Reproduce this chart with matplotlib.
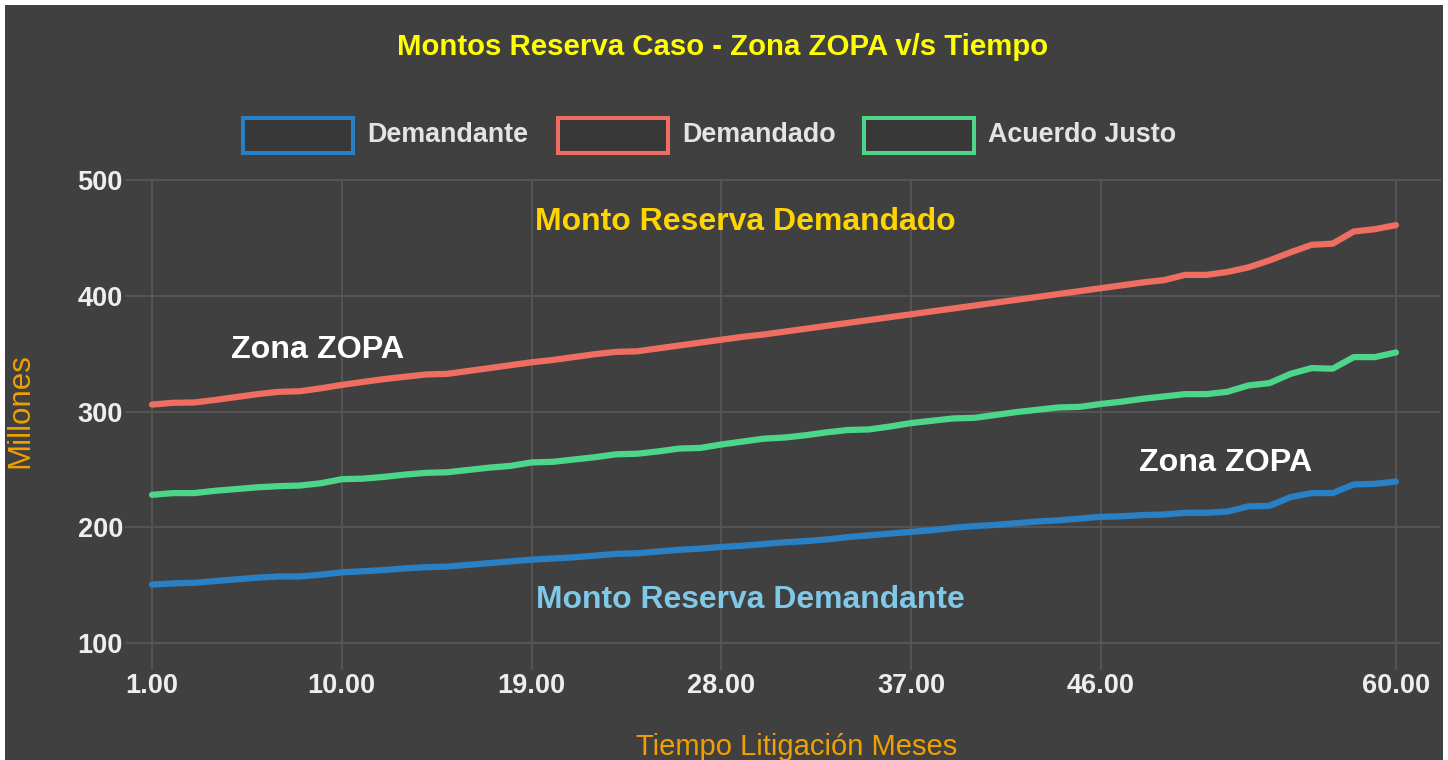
import matplotlib
matplotlib.use('Agg')
import matplotlib.pyplot as plt
from matplotlib.patches import Rectangle

# ---------------- data ----------------
months = list(range(1, 61))
demandante = [150.5, 151.5, 152, 153.5, 155, 156.5, 157.5, 157.5, 159, 161,
              162, 163, 164.5, 165.5, 166, 167.5, 169, 170.5, 172, 173,
              174, 175.5, 177, 177.5, 179, 180.5, 181.5, 183, 184, 185.5,
              187, 188, 189.5, 191.5, 193, 194.5, 196, 197.5, 199.5, 201,
              202, 203.5, 205, 206, 207.5, 209, 209.5, 210.5, 211, 212.5,
              212.5, 213.5, 218, 218.5, 226, 229.5, 229.5, 237, 237.5, 239.5]
demandado = [306, 307.5, 307.8, 310, 312.5, 315, 317, 317.5, 320, 323,
             325.5, 328, 330, 332, 332.5, 335, 337.5, 340, 342.5, 344.5,
             347, 349.5, 351.5, 352, 354.5, 357, 359.5, 362, 364.5, 366.5,
             369, 371.5, 374, 376.5, 379, 381.5, 384, 386.5, 389, 391.5,
             394, 396.5, 399, 401.5, 404, 406.5, 409, 411.5, 413.5, 418,
             418, 420.5, 424.5, 430.5, 437.5, 444, 445, 455.5, 457.5, 461]
acuerdo_justo = [228, 229.5, 229.5, 231.5, 233, 234.5, 235.5, 236, 238, 241.5,
                 242, 243.5, 245.5, 247, 247.5, 249.5, 251.5, 253, 256, 256.5,
                 258.5, 260.5, 263, 263.5, 265.5, 268, 268.5, 271.5, 274, 276.5,
                 277.5, 279.5, 282, 284, 284.5, 287, 290, 292, 294, 294.5,
                 297, 299.5, 301.5, 303.5, 304, 306.5, 308.5, 311, 313, 315,
                 315, 317, 322.5, 324.5, 332.5, 337.5, 337, 347, 347, 351]
x_ticks = [1, 10, 19, 28, 37, 46, 60]
y_ticks = [100, 200, 300, 400, 500]
series_names = ['Demandante', 'Demandado', 'Acuerdo Justo']

# ---------------- style ----------------
W, H = 1448, 760
BG = '#404040'
GRID = '#575757'
COLORS = ['#2a80c4', '#ee6e62', '#4dd68a']
FONT = 'Liberation Sans'

plt.rcParams['font.family'] = [FONT, 'DejaVu Sans']

fig = plt.figure(figsize=(W / 100, H / 100), dpi=100)
fig.patch.set_facecolor('white')
fig.patches.append(Rectangle((5 / W, 0), (1443 - 5) / W, 1 - 5 / H,
                             transform=fig.transFigure, facecolor=BG,
                             edgecolor='none', zorder=-10))

def fx(px):
    return px / W

def fy(py):
    return 1 - py / H

ax = fig.add_axes([fx(152), fy(643), (1440 - 152) / W, (643 - 180) / H])
ax.set_zorder(5)
ax.patch.set_visible(False)

for vals, c in zip([demandante, demandado, acuerdo_justo], COLORS):
    ax.plot(months, vals, color=c, lw=4.5, solid_joinstyle='round',
            solid_capstyle='round', zorder=3, clip_on=False)

ax.set_xlim(1, 62.09)
ax.set_ylim(100, 500)
ax.set_xticks(x_ticks)
ax.set_xticklabels([f'{v:.2f}' for v in x_ticks])
ax.set_yticks(y_ticks)
ax.set_yticklabels([str(v) for v in y_ticks])
ax.grid(True, color=GRID, lw=1.3, zorder=1)
ax.set_axisbelow(True)
ax.spines['right'].set_visible(False)
for s in ['left', 'top', 'bottom']:
    ax.spines[s].set_color(GRID)
    ax.spines[s].set_linewidth(1.3)
ax.tick_params(axis='both', length=19.4, width=1.3, color=GRID,
               labelcolor='#eeeeee', labelsize=19.5)
ax.tick_params(axis='y', pad=1.5)
ax.tick_params(axis='x', pad=2.5)
for lab in ax.get_xticklabels() + ax.get_yticklabels():
    lab.set_fontweight('bold')

renderer = fig.canvas.get_renderer()

def fit(t, target, dim='w'):
    for _ in range(3):
        bb = t.get_window_extent(renderer)
        cur = bb.width if dim == 'w' else bb.height
        t.set_fontsize(t.get_fontsize() * target / cur)
    return t

def label(x, y, s, **kw):
    return fig.text(fx(x), fy(y), s, zorder=10, **kw)

# title
fit(label(723, 47, 'Montos Reserva Caso - Zona ZOPA v/s Tiempo',
          color='#ffff00', fontweight='bold', fontsize=20,
          ha='center', va='center'), 650)

# legend
box_x = [241, 556, 862]
text_x = [367, 682, 988]
leg_texts = []
for bx, tx, name, c in zip(box_x, text_x, series_names, COLORS):
    fig.patches.append(Rectangle((fx(bx + 2), fy(153)), 110 / W, 35 / H,
                                 transform=fig.transFigure, facecolor='#383838',
                                 edgecolor=c, lw=2.9, zorder=2))
    leg_texts.append(label(tx, 135, name, color='#e4e4e4',
                           fontweight='bold', fontsize=18,
                           ha='left', va='center'))
fit(leg_texts[2], 188)
for t in leg_texts[:2]:
    t.set_fontsize(leg_texts[2].get_fontsize())

# annotations
fit(label(745, 222, 'Monto Reserva Demandado', color='#ffd500',
          fontweight='bold', fontsize=20, ha='center', va='center'), 420)
fit(label(318, 350, 'Zona ZOPA', color='white',
          fontweight='bold', fontsize=20, ha='center', va='center'), 173)
fit(label(1226, 463, 'Zona ZOPA', color='white',
          fontweight='bold', fontsize=20, ha='center', va='center'), 173)
fit(label(750, 600, 'Monto Reserva Demandante', color='#80c8e8',
          fontweight='bold', fontsize=20, ha='center', va='center'), 428)

# axis titles
fit(label(20, 411, 'Millones', color='#f0a000', rotation=90,
          fontsize=20, ha='center', va='center'), 115, dim='h')
fit(label(797, 747, 'Tiempo Litigación Meses', color='#f0a000',
          fontsize=20, ha='center', va='center'), 321)

fig.savefig('out.png', dpi=100, facecolor=fig.get_facecolor())
